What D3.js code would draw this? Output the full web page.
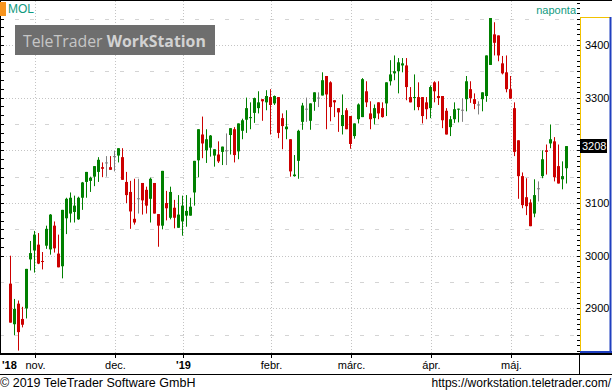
<!DOCTYPE html>
<html><head><meta charset="utf-8">
<script src="https://cdn.jsdelivr.net/npm/d3@7"></script>
<style>body{margin:0;background:#fff}svg{display:block}</style>
</head><body>
<svg id="c" width="612" height="392"></svg>
<script>
// ---- data (daily OHLC, MOL) ----
const opens = [2947,2870,2909,2880,2900,2993,3010,3021,2990,3019,
3012,3057,3004,2980,3071,3080,3083,3069,3110,3140,
3142,3150,3159,3168,3177,3168,3189,3190,3187,3140,
3121,3070,3109,3138,3125,3108,3138,3079,3057,3100,
3072,3091,3053,3065,3076,3076,3120,3181,3230,3200,
3205,3190,3192,3197,3200,3229,3240,3198,3237,3258,
3261,3271,3280,3297,3291,3301,3289,3301,3261,3240,
3221,3151,3180,3254,3279,3256,3292,3300,3304,3341,
3329,3295,3280,3246,3276,3265,3227,3259,3263,3312,
3270,3261,3291,3280,3289,3331,3346,3350,3361,3361,
3301,3299,3301,3301,3291,3280,3329,3303,3303,3275,
3244,3259,3278,3277,3297,3316,3297,3287,3297,3303,
3362,3420,3418,3365,3348,3316,3280,3219,3151,3111,
3101,3080,3128,3151,3200,3213,3217,3170,3145,3166];
const highs = [3000,2918,2915,2903,2975,3028,3047,3043,3007,3057,
3079,3065,3040,3087,3110,3120,3114,3112,3140,3159,
3150,3170,3187,3177,3189,3189,3199,3204,3204,3159,
3142,3146,3146,3138,3131,3148,3138,3079,3161,3123,
3131,3106,3115,3114,3115,3110,3180,3240,3264,3240,
3229,3202,3217,3207,3232,3242,3244,3251,3260,3300,
3291,3300,3312,3297,3314,3316,3304,3301,3270,3276,
3221,3191,3239,3290,3300,3289,3310,3310,3348,3341,
3331,3295,3280,3306,3280,3265,3251,3289,3337,3331,
3293,3287,3291,3291,3329,3371,3380,3375,3375,3375,
3320,3344,3329,3301,3301,3323,3331,3331,3303,3280,
3265,3291,3279,3299,3341,3331,3308,3293,3310,3380,
3451,3443,3418,3379,3380,3341,3291,3219,3158,3147,
3107,3145,3141,3200,3211,3249,3225,3211,3179,3208];
const lows = [2873,2849,2820,2864,2881,2972,2968,2984,2974,3013,
3002,3006,2978,2957,3041,3063,3063,3068,3087,3110,
3121,3132,3140,3149,3150,3163,3160,3177,3144,3100,
3051,3059,3080,3078,3080,3063,3080,3017,3050,3067,
3069,3052,3053,3038,3055,3076,3095,3149,3185,3176,
3188,3169,3176,3172,3172,3192,3177,3183,3221,3233,
3240,3252,3270,3256,3276,3230,3286,3223,3202,3221,
3150,3150,3146,3239,3254,3239,3275,3282,3304,3240,
3255,3263,3235,3230,3240,3203,3222,3251,3263,3282,
3240,3249,3259,3262,3265,3323,3333,3308,3348,3295,
3291,3276,3276,3251,3259,3261,3291,3286,3242,3230,
3227,3252,3253,3254,3274,3290,3278,3268,3274,3292,
3362,3380,3369,3344,3310,3298,3189,3108,3090,3077,
3056,3073,3103,3147,3154,3204,3141,3137,3126,3137];
const closes = [2873,2899,2855,2869,2975,3005,3040,2985,2989,3051,
3078,3014,2978,3087,3108,3110,3095,3110,3139,3159,
3148,3170,3182,3165,3177,3163,3189,3204,3144,3115,
3084,3063,3109,3105,3095,3146,3080,3057,3161,3090,
3121,3072,3078,3095,3085,3093,3180,3240,3213,3221,
3228,3202,3179,3207,3200,3242,3191,3251,3257,3280,
3263,3299,3291,3293,3303,3286,3303,3233,3246,3245,
3160,3154,3237,3285,3279,3289,3310,3300,3333,3306,
3282,3291,3272,3267,3240,3212,3251,3287,3335,3291,
3259,3280,3270,3263,3329,3344,3350,3367,3365,3320,
3291,3301,3282,3265,3278,3320,3312,3299,3257,3230,
3259,3278,3279,3277,3331,3299,3288,3287,3310,3380,
3451,3404,3380,3346,3316,3298,3197,3151,3096,3094,
3056,3115,3128,3183,3197,3221,3149,3137,3151,3208];

// x-axis: month labels and the candle index where each month starts
const monthLabels = ["nov.","dec.","'19","febr.","márc.","ápr.","máj."];
const monthStart  = [6, 26, 43, 65, 85, 105, 125];
const yearLabel = "'18";
const yTicks = [2900, 3000, 3100, 3200, 3300, 3400];
const yMinor = [2850, 2950, 3050, 3150, 3250, 3350, 3450];
const symbol = "MOL", periodLabel = "naponta", lastLabel = "3208";
const footerLeft = "© 2019 TeleTrader Software GmbH";
const footerRight = "https://workstation.teletrader.com/";

// ---- drawing ----
const svg = d3.select("#c");
const FONT = "'Liberation Sans', Arial, sans-serif";
const y = d3.scaleLinear().domain([2813.5, 3483.3]).range([354, 1]);
const x = d3.scaleBand().domain(d3.range(opens.length)).range([8.5, 568.5]);
const cx = i => x(i) + x.bandwidth() / 2;

svg.append("rect").attr("width", 612).attr("height", 392).attr("fill", "#fff");

// grid
const g = svg.append("g");
g.selectAll(".hmaj").data(yTicks).join("line")
  .attr("x1", 0).attr("x2", 580).attr("y1", d => Math.round(y(d)) + 0.5).attr("y2", d => Math.round(y(d)) + 0.5)
  .attr("stroke", "#c4c4c4").attr("stroke-dasharray", "1,2");
g.selectAll(".hmin").data(yMinor).join("line")
  .attr("x1", 0).attr("x2", 580).attr("y1", d => Math.round(y(d)) + 0.5).attr("y2", d => Math.round(y(d)) + 0.5)
  .attr("stroke", "#d4d4d4").attr("stroke-dasharray", "4,11").attr("stroke-dashoffset", -15);
g.selectAll(".vg").data(monthStart).join("line")
  .attr("x1", d => Math.round(cx(d)) + 0.5).attr("x2", d => Math.round(cx(d)) + 0.5)
  .attr("y1", 1).attr("y2", 354)
  .attr("stroke", "#c4c4c4").attr("stroke-dasharray", "1,2");

// watermark
const wm = svg.append("g");
wm.append("rect").attr("x", 15).attr("y", 25).attr("width", 200).attr("height", 30).attr("fill", "#6e6e6e");
const wt = wm.append("text").attr("x", 23).attr("y", 47).attr("font-family", "'Open Sans', 'Noto Sans', sans-serif")
  .attr("font-size", 18);
wt.append("tspan").text("TeleTrader ").attr("fill", "#c6c6c6");
wt.append("tspan").text("WorkStation").attr("fill", "#d2d2d2").attr("font-weight", "bold");
{ const L = wt.node().getComputedTextLength(); wt.attr("font-size", 18 * 183 / L); }

// candles
const idx = d3.range(opens.length);
const col = i => closes[i] > opens[i] ? "#008000" : (closes[i] < opens[i] ? "#cc0000" : "#808080");
const cg = svg.append("g");
cg.selectAll(".wick").data(idx).join("line")
  .attr("x1", i => Math.floor(cx(i)) + 0.5).attr("x2", i => Math.floor(cx(i)) + 0.5)
  .attr("y1", i => y(highs[i])).attr("y2", i => y(lows[i]))
  .attr("stroke", col).attr("stroke-width", 1);
cg.selectAll(".body").data(idx).join("rect")
  .attr("x", i => Math.floor(cx(i)) - 1).attr("width", 3)
  .attr("y", i => y(Math.max(opens[i], closes[i])))
  .attr("height", i => Math.max(1, Math.abs(y(opens[i]) - y(closes[i]))))
  .attr("fill", col);

// left edge ticks
const leftTicks = d3.range(-12, 30).map(k => 3200 + k * 100 / 6).filter(v => y(v) > 2 && y(v) < 352);
svg.selectAll(".lt").data(leftTicks).join("line")
  .attr("x1", 0).attr("x2", 4).attr("y1", d => Math.round(y(d)) + 0.5).attr("y2", d => Math.round(y(d)) + 0.5)
  .attr("stroke", "#000");
svg.append("line").attr("x1", 0.5).attr("x2", 0.5).attr("y1", 0).attr("y2", 354).attr("stroke", "#000");

// orange marker and symbol
svg.append("rect").attr("x", 0).attr("y", 2).attr("width", 6).attr("height", 14).attr("fill", "#f7941d");
svg.append("text").attr("x", 8).attr("y", 13).text(symbol).attr("font-family", FONT).attr("font-size", 12).attr("fill", "#109a80");
svg.append("text").attr("x", 576).attr("y", 14).attr("text-anchor", "end").text(periodLabel)
  .attr("font-family", FONT).attr("font-size", 11).attr("fill", "#109a80");

// top line
svg.append("line").attr("x1", 0).attr("x2", 612).attr("y1", 0.5).attr("y2", 0.5).attr("stroke", "#000");

// right axis panel
const ra = svg.append("g");
const minor = d3.range(2820, 3481, 10);
ra.selectAll(".rt").data(minor).join("line")
  .attr("x1", 577).attr("x2", 580).attr("y1", d => Math.round(y(d)) + 0.5).attr("y2", d => Math.round(y(d)) + 0.5)
  .attr("stroke", "#000");
ra.append("line").attr("x1", 580.5).attr("x2", 580.5).attr("y1", 17).attr("y2", 352).attr("stroke", "#f2c200");
ra.append("line").attr("x1", 580).attr("x2", 611).attr("y1", 17.5).attr("y2", 17.5).attr("stroke", "#f2c200");
ra.append("line").attr("x1", 610.5).attr("x2", 610.5).attr("y1", 17).attr("y2", 353).attr("stroke", "#1f3fbf").attr("stroke-width", 2);
ra.append("line").attr("x1", 580).attr("x2", 612).attr("y1", 352).attr("y2", 352).attr("stroke", "#1f3fbf").attr("stroke-width", 2);
const lp = closes[closes.length - 1];
const lpY = Math.round(y(lp));
// tick labels hidden where the last-price box covers them
ra.selectAll(".rl").data(yTicks.filter(d => Math.abs(y(d) - lpY) > 12)).join("text")
  .attr("x", 585).attr("y", d => y(d) + 4).text(d => d)
  .attr("font-family", FONT).attr("font-size", 11).attr("fill", "#000");
// last price box
ra.append("rect").attr("x", 580).attr("y", lpY - 7).attr("width", 27).attr("height", 14).attr("fill", "#000");
ra.append("text").attr("x", 582).attr("y", lpY + 4).text(lastLabel)
  .attr("font-family", FONT).attr("font-size", 11).attr("fill", "#fff");

// bottom axis
svg.append("line").attr("x1", 0).attr("x2", 612).attr("y1", 354).attr("y2", 354).attr("stroke", "#000").attr("stroke-width", 2);
svg.append("line").attr("x1", 0).attr("x2", 612).attr("y1", 374.5).attr("y2", 374.5).attr("stroke", "#000");
svg.append("line").attr("x1", 579.5).attr("x2", 579.5).attr("y1", 354).attr("y2", 374).attr("stroke", "#000");
svg.selectAll(".xt").data(monthStart).join("line")
  .attr("x1", d => Math.round(cx(d)) + 0.5).attr("x2", d => Math.round(cx(d)) + 0.5)
  .attr("y1", 355).attr("y2", 358).attr("stroke", "#000");
svg.selectAll(".xl").data(monthLabels).join("text")
  .attr("x", (d, i) => Math.round(cx(monthStart[i])) + 0.5).attr("y", 369)
  .attr("text-anchor", "middle").text(d => d)
  .attr("font-family", FONT).attr("font-size", 11)
  .attr("font-weight", d => d.startsWith("'") ? "bold" : "normal");
svg.append("text").attr("x", 2).attr("y", 369).text(yearLabel)
  .attr("font-family", FONT).attr("font-size", 11).attr("font-weight", "bold");

// footer
svg.append("text").attr("x", 0).attr("y", 387).text(footerLeft).attr("font-family", FONT).attr("font-size", 12.5);
svg.append("text").attr("x", 611).attr("y", 387).attr("text-anchor", "end").text(footerRight).attr("font-family", FONT).attr("font-size", 12);
</script>
</body></html>
